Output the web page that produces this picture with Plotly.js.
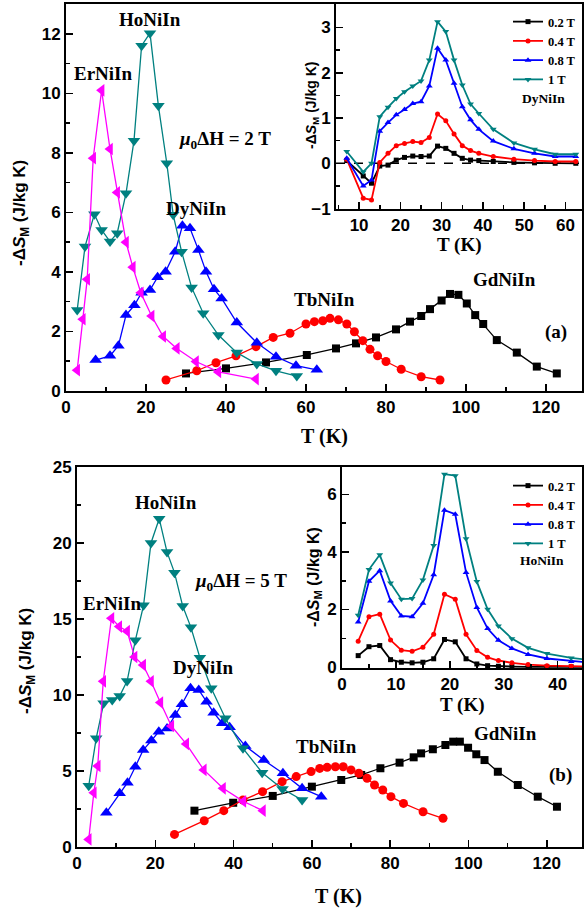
<!DOCTYPE html>
<html><head><meta charset="utf-8">
<script src="https://cdn.plot.ly/plotly-3.0.1.min.js"></script>
<style>html,body{margin:0;padding:0;background:#fff}#chart{width:584px;height:914px}</style>
</head><body><div id="chart"></div>
<script>
// ===== Panel (a): mu0 dH = 2 T =====
const erT_a = [2.8,4.2,5.3,6.8,8.9,11,12.8,15,16.7,18.7,21.4,24.3,27.7,32.5,38.1,47.5];
const erS_a = [0.7,2.41,3.75,7.82,10.1,8.13,6.67,5.0,4.16,3.3,2.52,1.83,1.43,0.99,0.64,0.40];
const hoT_a = [2.8,4.75,7.1,8.9,11,12.8,15,17,18.9,21,23.1,25.2,26.8,28.9,31.4,34.3,38.1,42.7,47.7,52.5,57.7];
const hoS_a = [2.72,4.85,5.94,5.41,5.02,5.3,6.64,8.41,11.6,12.02,9.58,7.65,5.92,4.68,3.48,2.61,1.88,1.29,0.91,0.68,0.50];
const dyT_a = [7.4,11,13.1,15,17.1,18.9,21,22.9,24.9,27.3,29.1,31,33.1,35,37,38.9,42.7,47.7,52.5,57.5,62.7];
const dyS_a = [1.04,1.18,1.52,2.55,2.88,3.3,3.39,3.82,4.01,4.68,5.55,5.47,4.74,4.01,3.42,3.11,2.30,1.62,1.15,0.85,0.71];
const tbT_a = [25,32.7,37.5,42.5,47.5,51.8,56,60,62.1,64.2,66,68.1,70.2,72.1,74.2,76,77.9,80,83.8,88.8,93.5];
const tbS_a = [0.37,0.68,0.95,1.18,1.49,1.80,1.94,2.25,2.33,2.36,2.44,2.39,2.25,1.99,1.69,1.40,1.18,0.99,0.73,0.48,0.37];
const gdT_a = [30,40,50,60.2,67.5,72.5,77.5,82.5,86,88.8,91,93.9,96,98.1,100.2,102.3,104.3,107.7,112.7,117.7,122.7];
const gdS_a = [0.59,0.76,0.96,1.21,1.43,1.60,1.80,2.07,2.33,2.52,2.75,3.04,3.26,3.23,2.94,2.55,2.25,1.71,1.29,0.82,0.59];

// Inset (a): DyNiIn at low fields
const insT_a = [7,11,13,15,17,19,21,23,25,27,29,31,33,35,37,39,42.5,47.5,52.5,57.5,62.5];
const ins02_a = [0.06,-0.28,-0.44,-0.06,-0.04,0.07,0.13,0.16,0.15,0.16,0.38,0.33,0.22,0.11,0.07,0.06,0.04,0.02,0.01,0.0,0.0];
const ins04_a = [0.09,-0.77,-0.81,0.02,0.22,0.39,0.44,0.48,0.46,0.57,1.09,0.94,0.65,0.39,0.28,0.22,0.15,0.09,0.06,0.04,0.04];
const ins08_a = [0.11,-0.50,-0.37,0.71,0.90,1.07,1.19,1.32,1.36,1.71,2.54,2.28,1.77,1.25,0.96,0.75,0.49,0.32,0.22,0.15,0.15];
const ins10_a = [0.26,-0.19,0.0,1.03,1.24,1.43,1.58,1.71,1.82,2.28,3.13,2.91,2.28,1.73,1.31,1.10,0.75,0.45,0.31,0.20,0.20];

// ===== Panel (b): mu0 dH = 5 T =====
const erT_b = [3.0,4.3,5.3,6.7,8.8,10.8,12.8,14.7,16.9,18.9,21.3,24.1,27.9,32.4,37.3,42.5,47.5];
const erS_b = [0.5,3.57,5.33,10.9,15.05,14.5,14.2,12.5,11.97,10.9,9.5,7.96,6.78,5.07,3.86,3.0,2.39];
const hoT_b = [3.0,4.9,6.8,9.0,10.9,12.8,14.9,17.0,18.9,21.0,23.0,24.9,27.0,29.1,31.4,34.3,37.9,42.4,47.3,52.5,57.5];
const hoS_b = [4.03,7.15,9.45,9.67,9.93,10.92,13.6,15.9,20.0,21.6,19.4,18.05,15.85,14.45,12.45,10.44,8.47,6.49,4.89,3.82,3.09];
const dyT_b = [7.5,10.9,12.9,14.9,16.9,19.0,20.9,23.0,25.1,26.8,29.0,31.1,33.1,34.9,37.1,39.0,43.0,47.7,52.6,57.5,62.4];
const dyS_b = [2.26,3.53,4.23,5.28,6.38,7.0,7.59,7.8,8.68,9.39,10.44,10.33,9.56,8.84,8.14,7.88,6.64,5.72,4.85,3.86,3.31];
const tbT_b = [24.9,32.5,37.5,42.4,47.4,52.4,56.0,59.8,62.0,63.9,66.0,68.0,70.0,72.0,74.1,76.0,78.1,80.2,83.4,88.4,93.5];
const tbS_b = [0.83,1.73,2.39,3.09,3.64,4.3,4.63,4.96,5.17,5.24,5.28,5.28,5.07,4.85,4.52,4.08,3.75,3.31,2.87,2.32,1.89];
const gdT_b = [30.0,39.9,50.0,60.0,67.5,72.6,77.5,82.4,86.0,87.9,90.9,94.1,96.1,97.8,99.9,102.0,104.1,107.5,112.6,117.7,122.6];
const gdS_b = [2.39,2.91,3.36,3.97,4.41,4.74,5.18,5.55,5.9,6.16,6.43,6.71,6.93,6.93,6.53,6.1,5.72,4.95,4.08,3.31,2.65];

// Inset (b): HoNiIn at low fields
const insT_b = [3,5,7,9,11,13,15,17,19,21,23,25,27,29,31.5,34.5,38,42.5,47.5];
const ins02_b = [0.40,0.71,0.75,0.26,0.17,0.15,0.17,0.29,0.96,0.88,0.29,0.11,0.05,0.03,0.02,0.01,0.01,0.01,0.01];
const ins04_b = [0.90,1.75,1.84,0.94,0.59,0.55,0.69,1.14,2.53,2.36,1.14,0.58,0.34,0.23,0.15,0.09,0.05,0.03,0.02];
const ins08_b = [1.57,2.98,3.35,2.30,1.78,1.75,2.22,3.21,5.45,5.31,3.29,2.07,1.34,0.93,0.65,0.44,0.30,0.20,0.13];
const ins10_b = [1.80,3.39,3.90,2.92,2.36,2.38,3.03,4.22,6.70,6.65,4.46,2.97,2.01,1.43,0.99,0.67,0.47,0.32,0.22];

const fieldNames = ['0.2 T','0.4 T','0.8 T','1 T'];

const C = {er:'#FF00FF', ho:'#008080', dy:'#0000FF', tb:'#FF0000', gd:'#000000'};
const SYM = {er:'triangle-left', ho:'triangle-down', dy:'triangle-up', tb:'circle', gd:'square'};
const MS = {er:11, ho:11, dy:11, tb:9, gd:8};

function mainTrace(x, y, key, xa, ya){
  return {x:x, y:y, xaxis:xa, yaxis:ya, type:'scatter', mode:'lines+markers', showlegend:false,
    line:{color:C[key], width:1.3}, marker:{symbol:SYM[key], size:MS[key], color:C[key]}};
}
const insKeys = ['gd','tb','dy','ho'];
function insTrace(x, y, i, xa, ya, leg){
  const k = insKeys[i];
  return {x:x, y:y, xaxis:xa, yaxis:ya, type:'scatter', mode:'lines+markers', name:fieldNames[i], legend:leg,
    line:{color:C[k], width:1.8}, marker:{symbol:SYM[k], size:(k==='tb'||k==='gd')?5:6, color:C[k]}};
}

const data = [
  mainTrace(gdT_a, gdS_a, 'gd', 'x', 'y'),
  mainTrace(tbT_a, tbS_a, 'tb', 'x', 'y'),
  mainTrace(dyT_a, dyS_a, 'dy', 'x', 'y'),
  mainTrace(hoT_a, hoS_a, 'ho', 'x', 'y'),
  mainTrace(erT_a, erS_a, 'er', 'x', 'y'),
  insTrace(insT_a, ins02_a, 0, 'x2', 'y2', 'legend'),
  insTrace(insT_a, ins04_a, 1, 'x2', 'y2', 'legend'),
  insTrace(insT_a, ins08_a, 2, 'x2', 'y2', 'legend'),
  insTrace(insT_a, ins10_a, 3, 'x2', 'y2', 'legend'),
  mainTrace(gdT_b, gdS_b, 'gd', 'x3', 'y3'),
  mainTrace(tbT_b, tbS_b, 'tb', 'x3', 'y3'),
  mainTrace(dyT_b, dyS_b, 'dy', 'x3', 'y3'),
  mainTrace(hoT_b, hoS_b, 'ho', 'x3', 'y3'),
  mainTrace(erT_b, erS_b, 'er', 'x3', 'y3'),
  insTrace(insT_b, ins02_b, 0, 'x4', 'y4', 'legend2'),
  insTrace(insT_b, ins04_b, 1, 'x4', 'y4', 'legend2'),
  insTrace(insT_b, ins08_b, 2, 'x4', 'y4', 'legend2'),
  insTrace(insT_b, ins10_b, 3, 'x4', 'y4', 'legend2')
];

const W = 584, H = 914;
const px = v => v / W, py = v => 1 - v / H;

const tickFont = {family:'Liberation Sans, Arial, sans-serif', size:17, color:'#000', weight:'bold'};
const sans = {family:'Liberation Sans, Arial, sans-serif', color:'#000', weight:'bold'};
const serif = {family:'Liberation Serif, Times New Roman, serif', color:'#000', weight:'bold'};
const ytitle = '-Δ<i>S</i><sub>M</sub> (J/kg K)';
const xtitle = 'T (K)';

function minor(d){ return {dtick:d, ticks:'inside', ticklen:4, tickwidth:1.5, tickcolor:'#000', showgrid:false}; }
function ax(o){
  return Object.assign({showline:true, linecolor:'#000', linewidth:2, mirror:true, ticks:'inside',
    ticklen:7, tickwidth:1.5, tickcolor:'#000', showgrid:false, zeroline:false, tickfont:tickFont, tick0:0}, o);
}

const layout = {
  width:W, height:H, margin:{l:0, r:0, t:0, b:0}, paper_bgcolor:'#fff', plot_bgcolor:'rgba(0,0,0,0)',
  showlegend:true,
  xaxis:  ax({domain:[px(66), px(582)],  range:[0,129],      anchor:'y',  dtick:20, minor:minor(10)}),
  yaxis:  ax({domain:[py(391), py(4)],   range:[0,13],       anchor:'x',  dtick:2,  minor:minor(1)}),
  xaxis2: ax({domain:[px(336), px(582)], range:[4.4,64],     anchor:'y2', dtick:10, minor:minor(5)}),
  yaxis2: ax({domain:[py(209), py(4)],   range:[-1.01,3.52], anchor:'x2', dtick:1,  minor:minor(0.5)}),
  xaxis3: ax({domain:[px(77), px(582)],  range:[0,129],      anchor:'y3', dtick:20, minor:minor(10)}),
  yaxis3: ax({domain:[py(847), py(467)], range:[0,25],       anchor:'x3', dtick:5,  minor:minor(2.5)}),
  xaxis4: ax({domain:[px(342), px(582)], range:[0,44.5],     anchor:'y4', dtick:10, minor:minor(5)}),
  yaxis4: ax({domain:[py(668), py(467)], range:[-0.03,6.95], anchor:'x4', dtick:2,  minor:minor(1)}),
  legend: {x:px(508), y:py(7), xanchor:'left', yanchor:'top', bgcolor:'rgba(0,0,0,0)', borderwidth:0,
    font:Object.assign({size:12.5}, serif), itemwidth:30},
  legend2: {x:px(508), y:py(471), xanchor:'left', yanchor:'top', bgcolor:'rgba(0,0,0,0)', borderwidth:0,
    font:Object.assign({size:12.5}, serif), itemwidth:30},
  shapes: [
    {type:'line', xref:'x2 domain', yref:'y2', x0:0, x1:1, y0:0, y1:0, line:{color:'#000', width:1.5, dash:'dash'}, layer:'below'}
  ],
  annotations: []
};

function ann(text, x, y, size, font, angle){
  layout.annotations.push({text:text, xref:'paper', yref:'paper', x:px(x), y:py(y), xanchor:'center', yanchor:'middle',
    showarrow:false, textangle:angle||0, font:Object.assign({size:size||19}, font||serif)});
}
// axis titles
ann(xtitle, 325, 436, 20);
ann(xtitle, 338, 896, 20);
ann(xtitle, 459, 245, 19);
ann(xtitle, 462, 705, 19);
ann(ytitle, 21, 213, 17, sans, -90);
ann(ytitle, 27, 661, 17, sans, -90);
ann(ytitle, 312, 106, 14, sans, -90);
ann(ytitle, 314, 577, 16, sans, -90);
// labels
ann('HoNiIn', 150, 19);
ann('ErNiIn', 103, 73);
ann('<i>μ</i><sub>0</sub>ΔH = 2 T', 225, 140);
ann('DyNiIn', 196, 208);
ann('TbNiIn', 324, 300);
ann('GdNiIn', 504, 279);
ann('(a)', 556, 332);
ann('DyNiIn', 543, 98, 13.5);
ann('HoNiIn', 166, 502);
ann('ErNiIn', 112, 603);
ann('<i>μ</i><sub>0</sub>ΔH = 5 T', 241, 582);
ann('DyNiIn', 203, 667);
ann('TbNiIn', 326, 746);
ann('GdNiIn', 505, 733);
ann('(b)', 560, 775);
ann('HoNiIn', 542, 560, 13.5);

Plotly.newPlot('chart', data, layout, {displayModeBar:false, staticPlot:true});
</script></body></html>
